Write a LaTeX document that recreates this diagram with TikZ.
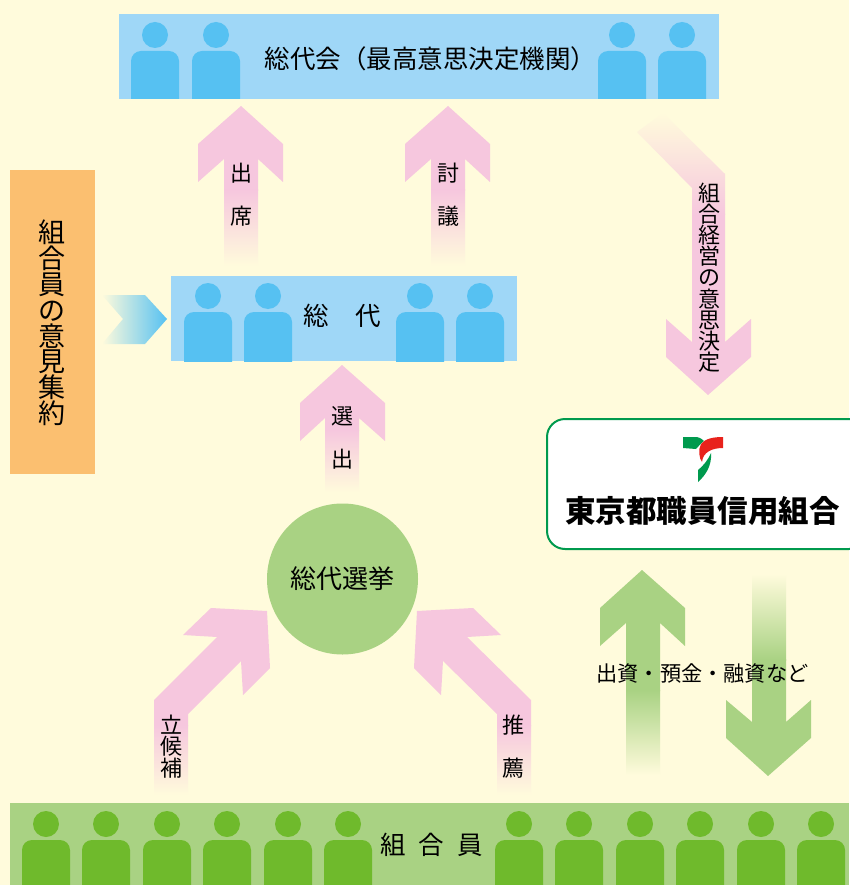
\documentclass[tikz,border=0pt]{standalone}
\usepackage{fontspec}
\setmainfont{Noto Sans CJK JP}
\definecolor{paleback}{HTML}{FFFBDC}
\definecolor{blueband}{HTML}{9FD7F7}
\definecolor{bluefig}{HTML}{56C1F2}
\definecolor{greenband}{HTML}{A9D283}
\definecolor{greenfig}{HTML}{6FBA2C}
\definecolor{orangeband}{HTML}{FBBF70}
\definecolor{pinkarrow}{HTML}{F6C7DE}
\definecolor{logogreen}{HTML}{009A4E}
\definecolor{logored}{HTML}{E8221C}
\tikzset{
    person/.pic={
        \fill[pic actions] (0,0) circle (13);
        \fill[pic actions,rounded corners=10pt] (-24,90) -- (-24,16) -- (24,16) -- (24,90) -- cycle;
    },
    bluefigure/.style={fill=bluefig},
    greenfigure/.style={fill=greenfig},
    pinkfade/.style={top color=pinkarrow,bottom color=paleback,draw=none},
    greenfade/.style={top color=greenband,bottom color=paleback,draw=none},
    arrowlabel/.style={font=\fontsize{22}{21.5}\selectfont,align=center,inner sep=0pt},
    bandlabel/.style={font=\fontsize{25.5}{28}\selectfont,inner sep=0pt}
}
\begin{document}
\begin{tikzpicture}[x=1pt,y=-1pt]
    \useasboundingbox (0,0) rectangle (849,885);
    \fill[paleback] (0,0) rectangle (849,885);

    \fill[blueband] (119,14) rectangle (719,99);
    \fill[blueband] (171,276) rectangle (517,361);
    \fill[orangeband] (10,170) rectangle (95,474);
    \fill[greenband] (10,803) rectangle (849,885);

    \begin{scope}
        \clip (0,0) rectangle (849,99);
        \pic[bluefigure] at (155,35) {person};
        \pic[bluefigure] at (216,35) {person};
        \pic[bluefigure] at (622,35) {person};
        \pic[bluefigure] at (682,35) {person};
    \end{scope}
    \begin{scope}
        \clip (0,200) rectangle (849,361);
        \pic[bluefigure] at (208,296) {person};
        \pic[bluefigure] at (268,296) {person};
        \pic[bluefigure] at (420,296) {person};
        \pic[bluefigure] at (480,296) {person};
    \end{scope}
    \begin{scope}
        \clip (0,700) rectangle (849,885);
        \pic[greenfigure] at (46,824) {person};
        \pic[greenfigure] at (106,824) {person};
        \pic[greenfigure] at (167,824) {person};
        \pic[greenfigure] at (227,824) {person};
        \pic[greenfigure] at (288,824) {person};
        \pic[greenfigure] at (348,824) {person};
        \pic[greenfigure] at (519,824) {person};
        \pic[greenfigure] at (579,824) {person};
        \pic[greenfigure] at (640,824) {person};
        \pic[greenfigure] at (700,824) {person};
        \pic[greenfigure] at (761,824) {person};
        \pic[greenfigure] at (821,824) {person};
    \end{scope}

    \fill[pinkarrow] (241,106) -- (283,144) -- (283,182) -- (258,159) -- (258,191) -- (224,191) -- (224,159) -- (198,182) -- (198,144) -- cycle;
    \shade[pinkfade] (224,190) rectangle (258,266);
    \fill[pinkarrow] (448,106) -- (490,144) -- (490,182) -- (465,159) -- (465,191) -- (431,191) -- (431,159) -- (405,182) -- (405,144) -- cycle;
    \shade[pinkfade] (431,190) rectangle (465,266);
    \fill[pinkarrow] (342,365) -- (385,403) -- (385,441) -- (359,418) -- (359,431) -- (325,431) -- (325,418) -- (300,441) -- (300,403) -- cycle;
    \shade[pinkfade] (325,430) rectangle (359,492);

    \fill[pinkarrow] (708,395) -- (751,357) -- (751,319) -- (725,342) -- (725,214) -- (692,214) -- (692,342) -- (666,319) -- (666,357) -- cycle;
    \shade[bottom color=pinkarrow,top color=paleback,draw=none] (637,132) -- (663,113) -- (725,174) -- (725,215) -- (692,215) -- (692,188) -- cycle;

    \fill[pinkarrow] (154,726) -- (154,700) -- (217,637) -- (183,635) -- (211,608) -- (267,611) -- (270,668) -- (243,695) -- (241,661) -- (188,714) -- (188,726) -- cycle;
    \shade[pinkfade] (154,725) rectangle (188,795);
    \fill[pinkarrow] (531,726) -- (531,700) -- (467,637) -- (501,635) -- (473,608) -- (417,611) -- (414,668) -- (441,695) -- (443,661) -- (497,714) -- (497,726) -- cycle;
    \shade[pinkfade] (497,725) rectangle (531,795);

    \shade[left color=paleback,right color=bluefig,draw=none] (102,295) -- (145,295) -- (167,319) -- (145,344) -- (102,344) -- (123,319) -- cycle;

    \fill[greenband] (642,570) -- (685,608) -- (685,646) -- (660,623) -- (660,691) -- (626,691) -- (626,623) -- (600,646) -- (600,608) -- cycle;
    \shade[greenfade] (626,690) rectangle (660,775);
    \fill[greenband] (768,776) -- (811,738) -- (811,700) -- (786,722) -- (786,659) -- (752,659) -- (752,722) -- (726,700) -- (726,738) -- cycle;
    \shade[bottom color=greenband,top color=paleback,draw=none] (752,574) rectangle (786,660);

    \node[circle,fill=greenband,minimum size=151pt,inner sep=0pt,font=\fontsize{26}{28}\selectfont] (senkyo) at (342.5,579) {総代選挙};

    \node[draw=logogreen,line width=2pt,fill=white,rounded corners=18pt,minimum width=320pt,minimum height=130pt,outer sep=0pt,anchor=north west] (kumiai) at (547,419) {};
    \fill[logogreen] (683,437) -- (697,437) .. controls (701,438) and (703,440) .. (704,441) .. controls (701,443) and (698,447) .. (696,449) -- (683,448) -- cycle;
    \fill[logored] (723,437) -- (723,448) .. controls (712,448) and (703,452) .. (702,462) .. controls (699,458) and (698,450) .. (701,444) .. controls (705,439) and (712,437) .. (723,437) -- cycle;
    \fill[logogreen] (711,453) .. controls (712,465) and (706,475) .. (698,482) -- (698,470) .. controls (704,465) and (708,460) .. (711,453) -- cycle;
    \node[font=\fontsize{30.5}{34}\selectfont\bfseries,inner sep=0pt] (kumiainame) at (702.5,511) {東京都職員信用組合};

    \node[bandlabel] (soudaikai) at (430.5,59) {総代会（最高意思決定機関）};
    \node[bandlabel,execute at begin node={\spaceskip=27pt\relax}] (soudai) at (342,316) {総 代};
    \node[bandlabel,execute at begin node={\spaceskip=13pt\relax}] (kumiaiin) at (431.5,845) {組 合 員};
    \node[arrowlabel,font=\fontsize{27}{25.8}\selectfont] (iken) at (52,323) {組\\合\\員\\の\\意\\見\\集\\約};

    \node[arrowlabel,font=\fontsize{22}{43}\selectfont] (shusseki) at (241,194.5) {出\\席};
    \node[arrowlabel,font=\fontsize{22}{43}\selectfont] (tougi) at (448,194.5) {討\\議};
    \node[arrowlabel,font=\fontsize{22}{43}\selectfont] (senshutsu) at (342,437.5) {選\\出};
    \node[arrowlabel,font=\fontsize{22}{43}\selectfont] (suisen) at (513,746.5) {推\\薦};
    \node[arrowlabel] (rikkouho) at (171,746.5) {立\\候\\補};
    \node[arrowlabel,font=\fontsize{22}{21.2}\selectfont] (keiei) at (709,277.5) {組\\合\\経\\営\\の\\意\\思\\決\\定};
    \node[arrowlabel,font=\fontsize{21.2}{24}\selectfont] (shusshi) at (702.5,673) {出資・預金・融資など};
\end{tikzpicture}
\end{document}
